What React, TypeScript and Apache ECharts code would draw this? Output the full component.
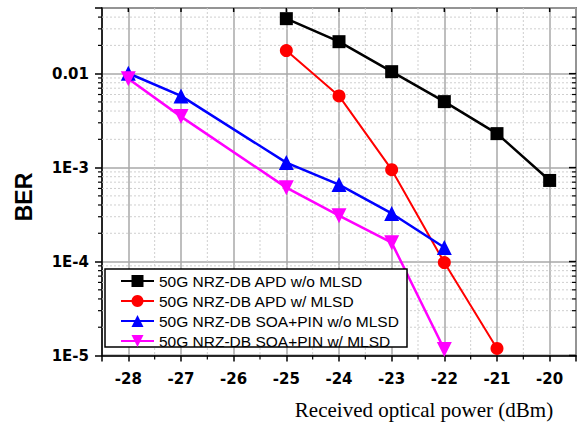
import React, { useEffect, useRef } from 'react';
import * as echarts from 'echarts';

const seriesNames = [
  '50G NRZ-DB APD w/o MLSD',
  '50G NRZ-DB APD w/ MLSD',
  '50G NRZ-DB SOA+PIN w/o MLSD',
  '50G NRZ-DB SOA+PIN w/ MLSD',
];
const apdWoX = [-25, -24, -23, -22, -21, -20];
const apdWoMlsd = [0.0385, 0.0219, 0.0105, 0.00504, 0.0023, 0.00073];
const apdWX = [-25, -24, -23, -22, -21];
const apdWMlsd = [0.0176, 0.0058, 0.00095, 0.0000975, 0.0000119];
const soaX = [-28, -27, -25, -24, -23, -22];
const soaWoMlsd = [0.0101, 0.0058, 0.00113, 0.00066, 0.000325, 0.000141];
const soaWMlsd = [0.00885, 0.00349, 0.000612, 0.000308, 0.000159, 0.0000116];

const xMin = -28.5;
const xMax = -19.5;
const yMin = 1e-5;
const yMax = 0.05;
const xMajor = [-28, -27, -26, -25, -24, -23, -22, -21, -20];
const xMinor = [-27.5, -26.5, -25.5, -24.5, -23.5, -22.5, -21.5, -20.5];
const yDecades = [1e-5, 1e-4, 1e-3, 1e-2];
const yMinorMult = [2, 3, 4, 5, 6, 7, 8, 9];

const colors = ['#000000', '#ff0000', '#0000ff', '#ff00ff'];

function zip(xs: number[], ys: number[]) {
  return xs.map((x, i) => [x, ys[i]]);
}

export default function App() {
  const ref = useRef<HTMLDivElement>(null);
  useEffect(() => {
    if (!ref.current) return;
    const chart = echarts.init(ref.current, null, { renderer: 'svg' });

    const guide: number[][] = [];
    yDecades.forEach((d) => {
      yMinorMult.forEach((m) => {
        const v = d * m;
        if (v < yMax - 1e-12) guide.push([-24, v, 0]);
      });
      guide.push([-24, d, 2]);
    });
    xMinor.forEach((v) => guide.push([v, 1e-3, 1]));
    xMajor.forEach((v) => guide.push([v, 1e-3, 3]));

    const labelFont = {
      fontFamily: 'DejaVu Sans',
      fontWeight: 'bold' as const,
      fontSize: 15,
      color: '#000',
    };

    const mkSeries = (i: number, data: number[][], symbol: string, size: number, lw: number) => ({
      name: seriesNames[i],
      type: 'line',
      data,
      symbol,
      symbolSize: size,
      lineStyle: { color: colors[i], width: lw },
      itemStyle: { color: colors[i] },
      z: 3,
    });

    chart.setOption({
      animation: false,
      grid: {
        left: 102,
        right: 2,
        top: 8,
        bottom: 67.5,
        show: true,
        borderColor: '#222',
        borderWidth: 1.5,
        backgroundColor: '#fff',
      },
      xAxis: {
        type: 'value',
        min: xMin,
        max: xMax,
        splitNumber: 9,
        axisLine: { lineStyle: { color: '#000', width: 1.5 } },
        axisTick: { show: true, length: 6, lineStyle: { color: '#000', width: 1.5 } },
        axisLabel: {
          ...labelFont,
          margin: 16,
          formatter: (v: number) => (Math.abs(v - Math.round(v)) < 1e-6 ? String(v) : ''),
        },
        splitLine: { show: true, lineStyle: { color: '#a8a8a8', width: 1.5 } },
      },
      yAxis: {
        type: 'log',
        logBase: 10,
        min: yMin,
        max: yMax,
        axisLine: { lineStyle: { color: '#000', width: 1.5 } },
        axisTick: { show: true, length: 7, lineStyle: { color: '#000', width: 1.5 } },
        axisLabel: {
          ...labelFont,
          margin: 13,
          formatter: (v: number) => {
            const l = Math.log10(v);
            const r = Math.round(l);
            if (Math.abs(l - r) > 1e-6) return '';
            if (r === -2) return '0.01';
            return '1E' + r;
          },
        },
        splitLine: { show: true, lineStyle: { color: '#a8a8a8', width: 1.5 } },
      },
      legend: {
        data: seriesNames,
        orient: 'vertical',
        left: 120,
        top: 273,
        padding: 0,
        itemWidth: 33,
        itemHeight: 15,
        itemGap: 4,
        z: 8,
        textStyle: {
          fontFamily: 'Liberation Sans',
          fontSize: 15.5,
          color: '#000',
          lineHeight: 15,
        },
      },
      graphic: [
        {
          type: 'rect',
          z: 6,
          shape: { x: 105, y: 269, width: 302, height: 78 },
          style: { fill: '#fff', stroke: '#000', lineWidth: 1.5 },
        },
        {
          type: 'text',
          x: 24,
          y: 197,
          rotation: Math.PI / 2,
          style: {
            text: 'BER',
            font: 'bold 23px "Liberation Sans"',
            fill: '#000',
            textAlign: 'center',
            textVerticalAlign: 'middle',
          },
        },
        {
          type: 'text',
          x: 424,
          y: 410,
          style: {
            text: 'Received optical power (dBm)',
            font: '21px "Liberation Serif"',
            fill: '#000',
            textAlign: 'center',
            textVerticalAlign: 'middle',
          },
        },
      ],
      series: [
        {
          name: 'guides',
          type: 'custom',
          clip: false,
          silent: true,
          z: 1,
          data: guide,
          renderItem: (params: any, api: any) => {
            const cs = params.coordSys;
            const kind = api.value(2);
            const left = cs.x;
            const right = cs.x + cs.width;
            const top = cs.y;
            const bottom = cs.y + cs.height;
            if (kind === 0 || kind === 2) {
              const y = api.coord([-24, api.value(1)])[1];
              const children: any[] = [];
              if (kind === 0) {
                children.push({
                  type: 'line',
                  shape: { x1: left, y1: y, x2: right, y2: y },
                  style: { stroke: '#cfcfcf', lineWidth: 1, lineDash: [2, 2] },
                });
                children.push({
                  type: 'line',
                  shape: { x1: left - 4, y1: y, x2: left, y2: y },
                  style: { stroke: '#000', lineWidth: 1.2 },
                });
                children.push({
                  type: 'line',
                  shape: { x1: right - 4, y1: y, x2: right, y2: y },
                  style: { stroke: '#000', lineWidth: 1.2 },
                });
              } else {
                children.push({
                  type: 'line',
                  shape: { x1: right - 7, y1: y, x2: right, y2: y },
                  style: { stroke: '#000', lineWidth: 1.5 },
                });
              }
              return { type: 'group', children };
            }
            const x = api.coord([api.value(0), 1e-3])[0];
            if (kind === 1) {
              return {
                type: 'group',
                children: [
                  {
                    type: 'line',
                    shape: { x1: x, y1: top, x2: x, y2: bottom },
                    style: { stroke: '#cfcfcf', lineWidth: 1, lineDash: [2, 2] },
                  },
                  {
                    type: 'line',
                    shape: { x1: x, y1: bottom, x2: x, y2: bottom + 4 },
                    style: { stroke: '#000', lineWidth: 1.2 },
                  },
                ],
              };
            }
            return {
              type: 'line',
              shape: { x1: x, y1: top, x2: x, y2: top + 4 },
              style: { stroke: '#000', lineWidth: 1.5 },
            };
          },
        },
        mkSeries(0, zip(apdWoX, apdWoMlsd), 'rect', 13, 2.5),
        mkSeries(1, zip(apdWX, apdWMlsd), 'circle', 13, 2),
        mkSeries(2, zip(soaX, soaWoMlsd), 'triangle', 15, 2.5),
        mkSeries(3, zip(soaX, soaWMlsd), 'path://M0,0 L10,0 L5,9 Z', 15, 2.5),
      ],
    });
    return () => chart.dispose();
  }, []);
  return (
    <div
      ref={ref}
      style={{ position: 'absolute', left: 0, top: 0, width: 579, height: 423 }}
    />
  );
}
